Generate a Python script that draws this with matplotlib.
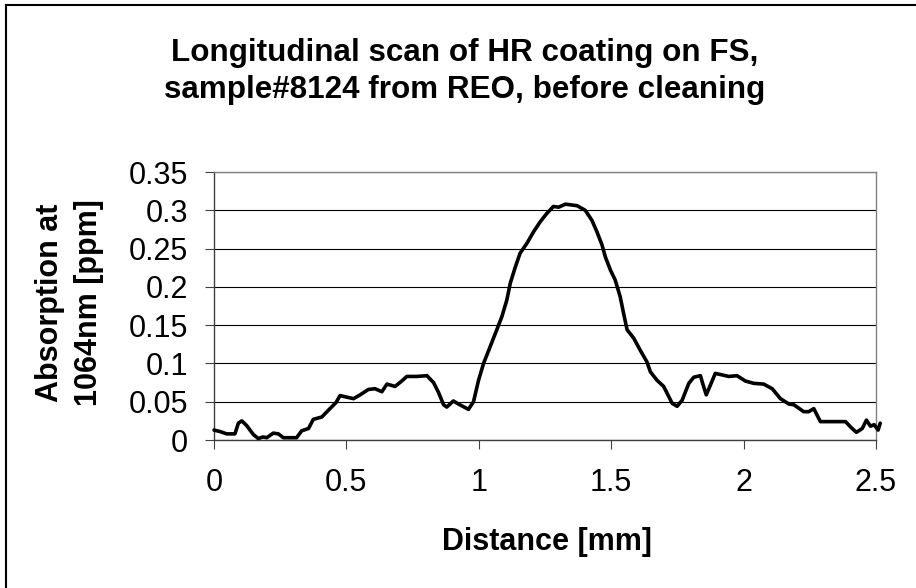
import matplotlib
matplotlib.use("Agg")
import matplotlib.pyplot as plt
from matplotlib.lines import Line2D

distance_mm = [0.000, 0.023, 0.048, 0.079, 0.092, 0.105, 0.123, 0.149, 0.167, 0.186,
               0.199, 0.224, 0.243, 0.262, 0.312, 0.331, 0.357, 0.375, 0.407, 0.438,
               0.461, 0.476, 0.501, 0.527, 0.552, 0.583, 0.608, 0.634, 0.653, 0.684,
               0.709, 0.728, 0.766, 0.804, 0.829, 0.848, 0.867, 0.879, 0.904, 0.923,
               0.961, 0.980, 0.999, 1.018, 1.043, 1.068, 1.087, 1.106, 1.119, 1.138,
               1.156, 1.182, 1.207, 1.232, 1.257, 1.282, 1.301, 1.327, 1.371, 1.402,
               1.427, 1.446, 1.465, 1.478, 1.497, 1.515, 1.534, 1.547, 1.560, 1.585,
               1.610, 1.635, 1.648, 1.673, 1.698, 1.717, 1.730, 1.749, 1.768, 1.793,
               1.812, 1.837, 1.847, 1.859, 1.875, 1.893, 1.919, 1.944, 1.975, 2.007,
               2.038, 2.076, 2.108, 2.139, 2.171, 2.190, 2.227, 2.246, 2.265, 2.290,
               2.315, 2.385, 2.404, 2.426, 2.448, 2.464, 2.479, 2.493, 2.508, 2.516]
absorption_ppm = [0.013, 0.011, 0.008, 0.008, 0.022, 0.025, 0.019, 0.007, 0.002, 0.004,
                  0.003, 0.009, 0.008, 0.003, 0.003, 0.012, 0.015, 0.027, 0.030, 0.041,
                  0.049, 0.058, 0.056, 0.054, 0.059, 0.066, 0.067, 0.063, 0.073, 0.070,
                  0.077, 0.083, 0.083, 0.084, 0.075, 0.062, 0.046, 0.043, 0.051, 0.047,
                  0.040, 0.050, 0.078, 0.100, 0.122, 0.144, 0.161, 0.183, 0.205, 0.226,
                  0.244, 0.257, 0.272, 0.285, 0.296, 0.305, 0.304, 0.308, 0.306, 0.300,
                  0.287, 0.272, 0.255, 0.239, 0.222, 0.209, 0.187, 0.165, 0.144, 0.133,
                  0.117, 0.102, 0.089, 0.078, 0.070, 0.057, 0.048, 0.044, 0.052, 0.074,
                  0.082, 0.084, 0.072, 0.059, 0.072, 0.087, 0.085, 0.083, 0.084, 0.077,
                  0.074, 0.073, 0.067, 0.054, 0.047, 0.046, 0.037, 0.037, 0.041, 0.024,
                  0.024, 0.024, 0.017, 0.010, 0.015, 0.026, 0.018, 0.020, 0.013, 0.022]

x_ticks = [0, 0.5, 1, 1.5, 2, 2.5]
x_tick_labels = ["0", "0.5", "1", "1.5", "2", "2.5"]
y_ticks = [0, 0.05, 0.1, 0.15, 0.2, 0.25, 0.3, 0.35]
y_tick_labels = ["0", "0.05", "0.1", "0.15", "0.2", "0.25", "0.3", "0.35"]

title_lines = ["Longitudinal scan of HR coating on FS,",
               "sample#8124 from REO, before cleaning"]
x_label = "Distance [mm]"
y_label_lines = ["Absorption at", "1064nm [ppm]"]

plt.rcParams['font.family'] = ['Liberation Sans', 'DejaVu Sans']
FS = 22

W, H = 916, 588
fig = plt.figure(figsize=(W / 100, H / 100), dpi=100)
ax = fig.add_axes([214 / W, 1 - 440 / H, (876 - 214) / W, (440 - 172) / H])

ax.plot(distance_mm, absorption_ppm, color='black', lw=2.6, clip_on=False,
        solid_joinstyle='round', solid_capstyle='round', zorder=3)
ax.set_xlim(0, 2.5)
ax.set_ylim(0, 0.35)
ax.set_xticks(x_ticks)
ax.set_xticklabels(x_tick_labels)
ax.set_yticks(y_ticks)
ax.set_yticklabels(y_tick_labels)
ax.yaxis.grid(True, color='black', lw=0.8)
ax.set_axisbelow(True)
ax.tick_params(axis='both', labelsize=FS, direction='out', length=6.5, width=0.8,
               color='#404040')
ax.tick_params(axis='y', pad=12)
ax.tick_params(axis='x', pad=14)
for s in ['top', 'right']:
    ax.spines[s].set_color('#808080')
    ax.spines[s].set_linewidth(1.0)
for s in ['left', 'bottom']:
    ax.spines[s].set_color('#404040')
    ax.spines[s].set_linewidth(1.0)

# title (two centred lines)
for txt, base in zip(title_lines, [61, 98]):
    fig.text(465 / W, 1 - base / H, txt, ha='center', va='baseline', fontsize=22.6,
             fontweight='bold')
# x axis label
fig.text(547 / W, 1 - 550 / H, x_label, ha='center', va='baseline', fontsize=FS,
         fontweight='bold')
# y axis label (two rotated lines)
for txt, base in zip(y_label_lines, [58, 97]):
    fig.text(base / W, 1 - 303 / H, txt, ha='center', va='baseline', fontsize=FS,
             fontweight='bold', rotation=90, rotation_mode='anchor')

# outer chart border (left and top edges visible)
fig.add_artist(Line2D([6 / W, 6 / W], [0, 1 - 5 / H], transform=fig.transFigure,
                      color='black', lw=1.5))
fig.add_artist(Line2D([6 / W, 1], [1 - 5 / H, 1 - 5 / H], transform=fig.transFigure,
                      color='black', lw=1.5))

fig.savefig("out.png", dpi=100)
